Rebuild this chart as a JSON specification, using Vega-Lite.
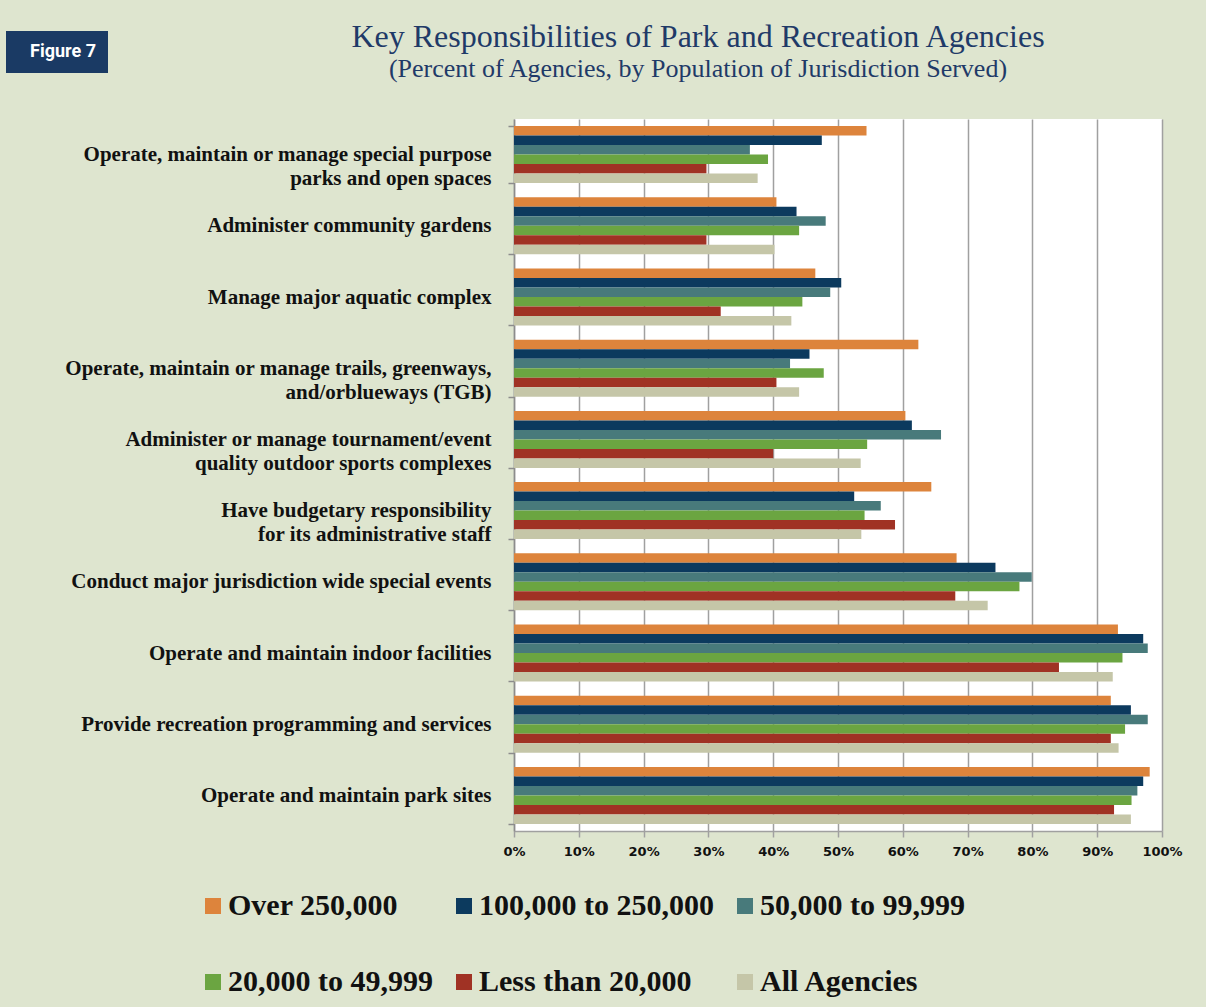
{
  "$schema": "https://vega.github.io/schema/vega-lite/v6.json",
  "width": 648,
  "height": 712,
  "autosize": {"type": "none"},
  "padding": {"left": 514, "top": 119, "right": 44, "bottom": 176},
  "background": "#dee5cf",
  "title": {
    "text": "Key Responsibilities of Park and Recreation Agencies",
    "subtitle": "(Percent of Agencies, by Population of Jurisdiction Served)",
    "anchor": "middle",
    "dx": -140,
    "offset": -52,
    "font": "Liberation Serif",
    "fontSize": 32,
    "fontWeight": "normal",
    "color": "#1f3a68",
    "subtitleFont": "Liberation Serif",
    "subtitleFontSize": 26,
    "subtitleColor": "#1f3a68",
    "subtitlePadding": 2
  },
  "data": {
    "values": [
      {"task": "Operate, maintain or manage special purpose\nparks and open spaces", "group": "Over 250,000", "pct": 54.4},
      {"task": "Operate, maintain or manage special purpose\nparks and open spaces", "group": "100,000 to 250,000", "pct": 47.5},
      {"task": "Operate, maintain or manage special purpose\nparks and open spaces", "group": "50,000 to 99,999", "pct": 36.4},
      {"task": "Operate, maintain or manage special purpose\nparks and open spaces", "group": "20,000 to 49,999", "pct": 39.2},
      {"task": "Operate, maintain or manage special purpose\nparks and open spaces", "group": "Less than 20,000", "pct": 29.7},
      {"task": "Operate, maintain or manage special purpose\nparks and open spaces", "group": "All Agencies", "pct": 37.6},
      {"task": "Administer community gardens", "group": "Over 250,000", "pct": 40.5},
      {"task": "Administer community gardens", "group": "100,000 to 250,000", "pct": 43.6},
      {"task": "Administer community gardens", "group": "50,000 to 99,999", "pct": 48.1},
      {"task": "Administer community gardens", "group": "20,000 to 49,999", "pct": 44.0},
      {"task": "Administer community gardens", "group": "Less than 20,000", "pct": 29.7},
      {"task": "Administer community gardens", "group": "All Agencies", "pct": 40.2},
      {"task": "Manage major aquatic complex", "group": "Over 250,000", "pct": 46.5},
      {"task": "Manage major aquatic complex", "group": "100,000 to 250,000", "pct": 50.5},
      {"task": "Manage major aquatic complex", "group": "50,000 to 99,999", "pct": 48.8},
      {"task": "Manage major aquatic complex", "group": "20,000 to 49,999", "pct": 44.5},
      {"task": "Manage major aquatic complex", "group": "Less than 20,000", "pct": 31.9},
      {"task": "Manage major aquatic complex", "group": "All Agencies", "pct": 42.8},
      {"task": "Operate, maintain or manage trails, greenways,\nand/orblueways (TGB)", "group": "Over 250,000", "pct": 62.4},
      {"task": "Operate, maintain or manage trails, greenways,\nand/orblueways (TGB)", "group": "100,000 to 250,000", "pct": 45.6},
      {"task": "Operate, maintain or manage trails, greenways,\nand/orblueways (TGB)", "group": "50,000 to 99,999", "pct": 42.6},
      {"task": "Operate, maintain or manage trails, greenways,\nand/orblueways (TGB)", "group": "20,000 to 49,999", "pct": 47.8},
      {"task": "Operate, maintain or manage trails, greenways,\nand/orblueways (TGB)", "group": "Less than 20,000", "pct": 40.5},
      {"task": "Operate, maintain or manage trails, greenways,\nand/orblueways (TGB)", "group": "All Agencies", "pct": 44.0},
      {"task": "Administer or manage tournament/event\nquality outdoor sports complexes", "group": "Over 250,000", "pct": 60.4},
      {"task": "Administer or manage tournament/event\nquality outdoor sports complexes", "group": "100,000 to 250,000", "pct": 61.4},
      {"task": "Administer or manage tournament/event\nquality outdoor sports complexes", "group": "50,000 to 99,999", "pct": 65.9},
      {"task": "Administer or manage tournament/event\nquality outdoor sports complexes", "group": "20,000 to 49,999", "pct": 54.5},
      {"task": "Administer or manage tournament/event\nquality outdoor sports complexes", "group": "Less than 20,000", "pct": 40.0},
      {"task": "Administer or manage tournament/event\nquality outdoor sports complexes", "group": "All Agencies", "pct": 53.5},
      {"task": "Have budgetary responsibility\nfor its administrative staff", "group": "Over 250,000", "pct": 64.4},
      {"task": "Have budgetary responsibility\nfor its administrative staff", "group": "100,000 to 250,000", "pct": 52.5},
      {"task": "Have budgetary responsibility\nfor its administrative staff", "group": "50,000 to 99,999", "pct": 56.6},
      {"task": "Have budgetary responsibility\nfor its administrative staff", "group": "20,000 to 49,999", "pct": 54.1},
      {"task": "Have budgetary responsibility\nfor its administrative staff", "group": "Less than 20,000", "pct": 58.8},
      {"task": "Have budgetary responsibility\nfor its administrative staff", "group": "All Agencies", "pct": 53.6},
      {"task": "Conduct major jurisdiction wide special events", "group": "Over 250,000", "pct": 68.3},
      {"task": "Conduct major jurisdiction wide special events", "group": "100,000 to 250,000", "pct": 74.3},
      {"task": "Conduct major jurisdiction wide special events", "group": "50,000 to 99,999", "pct": 79.9},
      {"task": "Conduct major jurisdiction wide special events", "group": "20,000 to 49,999", "pct": 78.0},
      {"task": "Conduct major jurisdiction wide special events", "group": "Less than 20,000", "pct": 68.1},
      {"task": "Conduct major jurisdiction wide special events", "group": "All Agencies", "pct": 73.1},
      {"task": "Operate and maintain indoor facilities", "group": "Over 250,000", "pct": 93.2},
      {"task": "Operate and maintain indoor facilities", "group": "100,000 to 250,000", "pct": 97.1},
      {"task": "Operate and maintain indoor facilities", "group": "50,000 to 99,999", "pct": 97.8},
      {"task": "Operate and maintain indoor facilities", "group": "20,000 to 49,999", "pct": 93.9},
      {"task": "Operate and maintain indoor facilities", "group": "Less than 20,000", "pct": 84.1},
      {"task": "Operate and maintain indoor facilities", "group": "All Agencies", "pct": 92.4},
      {"task": "Provide recreation programming and services", "group": "Over 250,000", "pct": 92.1},
      {"task": "Provide recreation programming and services", "group": "100,000 to 250,000", "pct": 95.2},
      {"task": "Provide recreation programming and services", "group": "50,000 to 99,999", "pct": 97.8},
      {"task": "Provide recreation programming and services", "group": "20,000 to 49,999", "pct": 94.3},
      {"task": "Provide recreation programming and services", "group": "Less than 20,000", "pct": 92.1},
      {"task": "Provide recreation programming and services", "group": "All Agencies", "pct": 93.3},
      {"task": "Operate and maintain park sites", "group": "Over 250,000", "pct": 98.1},
      {"task": "Operate and maintain park sites", "group": "100,000 to 250,000", "pct": 97.1},
      {"task": "Operate and maintain park sites", "group": "50,000 to 99,999", "pct": 96.2},
      {"task": "Operate and maintain park sites", "group": "20,000 to 49,999", "pct": 95.3},
      {"task": "Operate and maintain park sites", "group": "Less than 20,000", "pct": 92.6},
      {"task": "Operate and maintain park sites", "group": "All Agencies", "pct": 95.2}
    ]
  },
  "mark": {"type": "bar"},
  "encoding": {
    "y": {
      "field": "task",
      "type": "nominal",
      "sort": [
        "Operate, maintain or manage special purpose\nparks and open spaces",
        "Administer community gardens",
        "Manage major aquatic complex",
        "Operate, maintain or manage trails, greenways,\nand/orblueways (TGB)",
        "Administer or manage tournament/event\nquality outdoor sports complexes",
        "Have budgetary responsibility\nfor its administrative staff",
        "Conduct major jurisdiction wide special events",
        "Operate and maintain indoor facilities",
        "Provide recreation programming and services",
        "Operate and maintain park sites"
      ],
      "scale": {"paddingInner": 0.2, "paddingOuter": 0.1},
      "axis": {
        "title": null,
        "grid": false,
        "labelExpr": "split(datum.label, '\\n')",
        "labelFont": "Liberation Serif",
        "labelFontWeight": "bold",
        "labelFontSize": 21,
        "labelLineHeight": 24,
        "labelColor": "#111111",
        "labelLimit": 520,
        "labelPadding": 17,
        "tickBand": "extent",
        "tickSize": 6,
        "tickColor": "#8c8c8c",
        "tickWidth": 1.5,
        "domainColor": "#8c8c8c",
        "domainWidth": 1.5
      }
    },
    "yOffset": {
      "field": "group",
      "sort": ["Over 250,000", "100,000 to 250,000", "50,000 to 99,999", "20,000 to 49,999", "Less than 20,000", "All Agencies"],
      "scale": {"paddingInner": 0, "paddingOuter": 0}
    },
    "x": {
      "field": "pct",
      "type": "quantitative",
      "scale": {"domain": [0, 100], "nice": false},
      "axis": {
        "title": null,
        "values": [0, 10, 20, 30, 40, 50, 60, 70, 80, 90, 100],
        "labelExpr": "datum.value + '%'",
        "labelFlush": false,
        "grid": true,
        "gridColor": "#a0a0a0",
        "gridWidth": 1.5,
        "tickSize": 6,
        "tickColor": "#a0a0a0",
        "tickWidth": 1.5,
        "domainColor": "#a0a0a0",
        "domainWidth": 1.5,
        "labelFont": "DejaVu Sans",
        "labelFontWeight": "bold",
        "labelFontSize": 13,
        "labelColor": "#111111",
        "labelPadding": 8
      }
    },
    "color": {
      "field": "group",
      "type": "nominal",
      "scale": {
        "domain": ["Over 250,000", "100,000 to 250,000", "50,000 to 99,999", "20,000 to 49,999", "Less than 20,000", "All Agencies"],
        "range": ["#dd843c", "#0c3a5e", "#487a7b", "#6ba541", "#a03224", "#c5c6a8"]
      },
      "legend": {
        "title": null,
        "orient": "none",
        "legendX": -316,
        "legendY": 772,
        "direction": "horizontal",
        "columns": 3,
        "columnPadding": 16,
        "rowPadding": 46,
        "padding": 0,
        "symbolType": "square",
        "symbolSize": 256,
        "symbolStrokeWidth": 0,
        "labelFont": "Liberation Serif",
        "labelFontWeight": "bold",
        "labelFontSize": 30,
        "labelColor": "#111111",
        "labelOffset": 0,
        "labelLimit": 400
      }
    },
    "strokeDash": {
      "datum": "Figure 7",
      "type": "nominal",
      "legend": {
        "title": null,
        "orient": "none",
        "legendX": -508,
        "legendY": -88,
        "fillColor": "#1a3a64",
        "padding": 12,
        "symbolSize": 0,
        "symbolOpacity": 0,
        "symbolStrokeWidth": 0,
        "labelOffset": -6,
        "labelFont": "Roboto",
        "labelFontWeight": "bold",
        "labelFontSize": 18,
        "labelColor": "#ffffff"
      }
    }
  },
  "config": {
    "view": {"fill": "#ffffff", "stroke": null}
  }
}
